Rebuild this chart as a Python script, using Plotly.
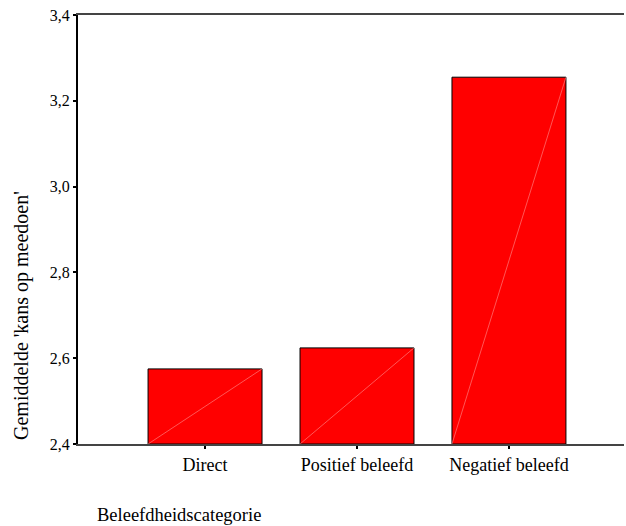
import plotly.graph_objects as go

categories = ["Direct", "Positief beleefd", "Negatief beleefd"]
values = [2.575, 2.624, 3.255]
y_ticks = [2.4, 2.6, 2.8, 3.0, 3.2, 3.4]
y_tick_labels = ["2,4", "2,6", "2,8", "3,0", "3,2", "3,4"]
base = 2.4
bar_width = 0.75

xpos = list(range(len(categories)))
font = "Liberation Serif, Times New Roman, serif"

fig = go.Figure()
fig.add_trace(go.Bar(
    x=xpos, y=[v - base for v in values], base=base, width=bar_width,
    marker=dict(color="#ff0000", line=dict(color="#000000", width=1)),
    hoverinfo="skip",
))
# faint diagonal rendering lines inside each bar
for i, v in zip(xpos, values):
    fig.add_trace(go.Scatter(
        x=[i - bar_width / 2, i + bar_width / 2], y=[base, v], mode="lines",
        line=dict(color="#ff9090", width=0.6), hoverinfo="skip",
    ))

fig.update_layout(
    width=626, height=526,
    margin=dict(l=78, r=2, t=15, b=82),
    paper_bgcolor="white", plot_bgcolor="white",
    showlegend=False,
    font=dict(family=font, color="#000000"),
    xaxis=dict(
        range=[-0.836, 2.757], tickvals=xpos, ticktext=categories,
        showgrid=False, zeroline=False, showline=True, mirror=True,
        linecolor="#444444", linewidth=2,
        ticks="outside", ticklen=3, tickwidth=2, tickcolor="#000000",
        tickfont=dict(size=18, family=font, color="#000000"),
    ),
    yaxis=dict(
        range=[2.4, 3.4], tickvals=y_ticks, ticktext=y_tick_labels,
        showgrid=False, zeroline=False, showline=True,
        linecolor="#000000", linewidth=2,
        ticks="outside", ticklen=3, tickwidth=2, tickcolor="#000000",
        tickfont=dict(size=16, family=font, color="#000000"),
    ),
    annotations=[
        dict(text="Gemiddelde 'kans op meedoen'", xref="paper", yref="paper",
             x=-0.1026, y=0.3007, xanchor="center", yanchor="middle", textangle=-90,
             showarrow=False, font=dict(size=20, family=font, color="#000000")),
        dict(text="Beleefdheidscategorie", xref="paper", yref="paper",
             x=0.031, y=-0.1655, xanchor="left", yanchor="middle",
             showarrow=False, font=dict(size=18.5, family=font, color="#000000")),
    ],
)

fig.write_html(
    "out.html",
    config={"displayModeBar": False},
    post_script="document.body.style.margin='0';document.body.style.overflow='hidden';",
)
